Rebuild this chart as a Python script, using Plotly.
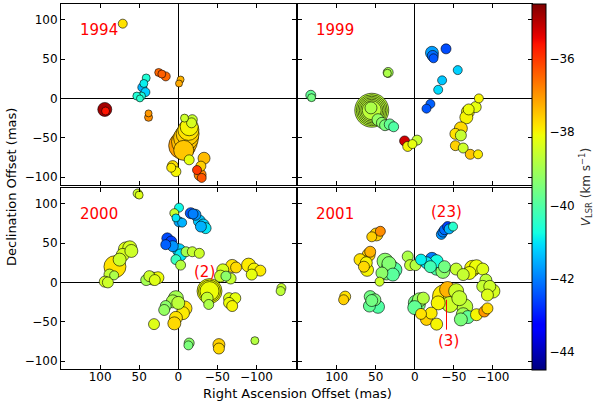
import numpy as np
import plotly.graph_objects as go

# ---- data: RA offset (mas), Dec offset (mas), V_LSR (km/s), spot size ----
years = ["1994", "1999", "2000", "2001"]

x_1994 = [71, 94, 93, 25, 21, 16, -3, -1, 41, 44, 46, 42, 47, 53, 49, 38, 38,
          -5, -8, -10, -12, -13, -14, -7, -8, -18, -17, -14, -33, -29, -24, -28, -30, 7, 3, 9]
y_1994 = [95, -14, -16, 33, 31, 28, 24, 19, 26, 19, 14, 8, 3, 3, 0, -19, -24,
          -60, -55, -50, -45, -40, -36, -66, -25, -27, -31, -78, -76, -86, -91, -97, -101, -86, -93, -88]
v_1994 = [-37.8, -34.8, -35.6, -36.5, -36.4, -36.5, -37.3, -37.2, -40.6, -40.9, -41.5, -41.2, -40.7, -40.6, -40.5, -37.0, -36.9,
          -37.1, -37.4, -37.5, -37.6, -37.8, -38.0, -37.5, -38.5, -38.6, -38.4, -38.2, -37.4, -37.6, -36.0, -36.8, -36.3, -37.8, -38.0, -37.9]
s_1994 = [9, 14, 8, 8, 8, 9, 7, 7, 8, 8, 9, 9, 8, 8, 7, 7, 8,
          27, 26, 25, 23, 21, 18, 20, 8, 10, 10, 10, 12, 10, 9, 12, 9, 11, 10, 9]

x_1999 = [133, 132, 34, 35, 55, 55, 55, 55, 55, 55, 56, 47, 42, 38, 32, 27, 13, 9, 3, -3,
          -22, -23, -24, -40, -55, -35, -30, -20, -15,
          -82, -78, -69, -68, -66, -59, -52, -59, -52, -62, -71, -81]
y_1999 = [4, 1, 33, 32, -15, -15, -15, -15, -15, -15, -12, -27, -31, -34, -33, -36, -54, -61, -58, -53,
          58, 54, 51, 63, 36, 23, 11, -7, -13,
          0, -11, -14, -17, -24, -38, -45, -47, -60, -63, -71, -71]
v_1999 = [-39.8, -39.6, -39.0, -38.9, -38.7, -38.7, -38.7, -38.7, -38.7, -38.7, -38.9, -39.2, -39.3, -39.5, -39.8, -40.0, -35.2, -38.0, -38.2, -38.6,
          -41.7, -42.2, -42.4, -42.5, -41.2, -41.3, -41.1, -42.3, -42.4,
          -38.0, -38.2, -38.1, -38.0, -38.0, -37.7, -37.8, -38.6, -37.6, -38.5, -37.5, -37.9]
s_1999 = [10, 8, 10, 8, 34, 31, 28, 25, 22, 19, 12, 12, 11, 11, 11, 10, 10, 10, 9, 10,
          13, 11, 9, 10, 9, 9, 9, 9, 9,
          9, 11, 11, 13, 13, 13, 11, 11, 10, 10, 10, 9]

x_2000 = [52, 50, 81, 67, 62, 71, 75, 60, 88, 94, 90, 82, 41, 33, 26, 37, 30, 31,
          -1, 5, -1, -5, 3, -16, -19, -22, -27, -32, -35, -29,
          14, 9, 16, 7, -1, -3, 3, -3, -10, -18, -27,
          -40, -40, -40, -37, -39, -57, -69, -74, -54, -61, -67,
          -90, -97, -105, -94, -132, -131, -65, -73, -65, -69,
          3, 7, 16, 18, -8, -6, 3, 5, 0, -14, -13, -52, -52, -98]
y_2000 = [113, 111, 20, 42, 44, 35, 29, 40, 10, 1, 0, 9, 3, 5, 6, 8, 3, -53,
          95, 88, 77, 76, 82, 88, 87, 86, 78, 73, 69, 71,
          56, 52, 48, 46, 41, 35, 29, 22, 39, 39, 37,
          -11, -11, -11, -20, -28, 16, 21, 19, 8, 8, 5,
          22, 17, 15, 10, -7, -11, -20, -20, -26, -30,
          -20, -24, -30, -35, -33, -39, -45, -52, -26, -77, -80, -79, -84, -74]
v_2000 = [-38.5, -38.3, -37.8, -38.3, -38.4, -38.4, -38.5, -38.5, -38.6, -38.4, -38.5, -38.9, -39.0, -38.4, -38.1, -38.5, -38.3, -38.3,
          -40.8, -38.6, -41.6, -41.5, -41.0, -42.4, -42.0, -41.8, -41.3, -41.2, -41.0, -41.5,
          -42.5, -42.6, -42.3, -41.8, -41.2, -41.0, -40.3, -38.8, -39.0, -38.6, -38.5,
          -38.1, -38.1, -38.1, -38.6, -38.9, -38.4, -37.8, -37.7, -38.5, -39.3, -38.6,
          -37.9, -38.0, -37.9, -38.2, -38.6, -38.7, -38.3, -38.2, -38.1, -38.0,
          -39.0, -38.9, -39.3, -39.2, -37.8, -37.9, -37.8, -37.7, -38.7, -39.3, -39.5, -37.6, -37.7, -38.8]
s_2000 = [9, 8, 22, 15, 14, 13, 13, 13, 11, 11, 11, 9, 11, 13, 12, 11, 11, 11,
          9, 9, 10, 9, 8, 11, 10, 11, 12, 12, 11, 11,
          11, 11, 10, 11, 13, 12, 10, 10, 10, 10, 10,
          25, 22, 19, 12, 10, 12, 13, 11, 12, 10, 11,
          14, 12, 11, 11, 9, 9, 11, 11, 11, 11,
          15, 13, 11, 11, 15, 13, 13, 13, 13, 10, 9, 12, 11, 8]

x_2001 = [44, 49, 55, 59, 66, 61, 70, 62, 57, 65,
          38, 32, 26, 28, 42, 36, 45, 33, 89, 91, 57, 51, 58, 47, 55,
          9, 6, -1, -8, -15, -22, -28, -28, -36, -38, -20,
          -34, -36, -38, -42, -49, -44,
          -2, -6, 0, -11, -4, -15, -28, -21, -8,
          -42, -38, -30, -53, -57, -64, -62, -68, -59, -79, -89, -93, -48, -45,
          -53, -62, -74, -79, -87, -70, -91, -87, -96, -100, -93]
y_2001 = [65, 61, 58, 35, 27, 16, 29, 25, 39, 20,
          27, 20, 16, 10, 12, 12, 1, 24, -18, -22, -18, -22, -30, -31, -23,
          33, 22, 22, 29, 25, 30, 27, 18, 14, 20, 20,
          61, 64, 67, 71, 71, 68,
          -26, -22, -32, -20, -28, -47, -53, -39, -40,
          -9, -18, -26, -11, -20, -31, -41, -44, -47, -41, -37, -33, -20, -28,
          17, 10, 18, 20, 17, 12, 3, -5, -5, -11, -16]
v_2001 = [-36.9, -37.6, -37.6, -37.6, -37.9, -38.0, -37.8, -38.0, -37.3, -37.7,
          -39.3, -39.6, -40.0, -39.9, -39.3, -39.5, -38.5, -39.4, -37.8, -37.6, -39.6, -39.5, -39.8, -40.0, -39.6,
          -38.9, -38.6, -38.8, -40.9, -41.0, -42.0, -40.7, -40.0, -39.3, -39.6, -40.2,
          -41.8, -42.0, -42.2, -42.6, -40.5, -41.5,
          -39.6, -39.2, -39.8, -38.8, -39.5, -37.6, -38.0, -37.9, -37.8,
          -37.3, -37.9, -38.0, -38.5, -38.6, -38.7, -39.0, -39.8, -39.5, -38.0, -37.0, -37.7, -38.3, -38.5,
          -38.6, -38.6, -38.0, -38.1, -38.3, -38.1, -38.7, -38.6, -38.5, -38.4, -38.3]
s_2001 = [10, 13, 10, 13, 12, 13, 12, 12, 11, 11,
          16, 16, 15, 13, 12, 14, 9, 14, 11, 10, 12, 12, 12, 13, 12,
          11, 11, 11, 11, 12, 13, 13, 14, 14, 12, 12,
          10, 10, 10, 10, 9, 10,
          16, 14, 14, 12, 15, 12, 12, 12, 11,
          16, 24, 14, 15, 15, 16, 14, 13, 13, 12, 11, 11, 18, 16,
          12, 12, 16, 14, 12, 13, 12, 12, 12, 14, 12]

panels = [(x_1994, y_1994, v_1994, s_1994),
          (x_1999, y_1999, v_1999, s_1999),
          (x_2000, y_2000, v_2000, s_2000),
          (x_2001, y_2001, v_2001, s_2001)]

# matplotlib "jet" colormap
def jet_scale(n=65):
    t = np.linspace(0, 1, n)
    r = np.interp(t, [0, 0.35, 0.66, 0.89, 1], [0, 0, 1, 1, 0.5])
    g = np.interp(t, [0, 0.125, 0.375, 0.64, 0.91, 1], [0, 0, 1, 1, 0, 0])
    b = np.interp(t, [0, 0.11, 0.34, 0.65, 1], [0.5, 1, 1, 0, 0])
    return [[float(ti), f"rgb({int(ri*255)},{int(gi*255)},{int(bi*255)})"]
            for ti, ri, gi, bi in zip(t, r, g, b)]

jet = jet_scale()
vmin, vmax = -44.5, -34.5

W, H = 600, 404

fig = go.Figure()
for i, (xs, ys, vs, ss) in enumerate(panels):
    xs, ys, vs, ss = map(np.array, (xs, ys, vs, ss))
    order = np.argsort(-ss, kind="stable")
    sfx = "" if i == 0 else str(i + 1)
    fig.add_trace(go.Scatter(
        x=xs[order], y=ys[order], mode="markers",
        xaxis="x" + sfx, yaxis="y" + sfx,
        marker=dict(size=ss[order], color=vs[order], colorscale=jet,
                    cmin=vmin, cmax=vmax, opacity=1,
                    line=dict(color="black", width=0.6),
                    showscale=(i == 0),
                    colorbar=dict(x=532/W, xanchor="left", thickness=14, xpad=0, ypad=0,
                                  y=(H-370)/H, yanchor="bottom", len=366/H,
                                  outlinecolor="black", outlinewidth=1,
                                  tickvals=[-44, -42, -40, -38, -36], ticks="",
                                  tickfont=dict(size=12, color="black"),
                                  title=dict(text="<i>V</i><sub>LSR</sub> (km s<sup>−1</sup>)",
                                             side="right", font=dict(size=12, color="#333")))),
        showlegend=False, hoverinfo="skip"))

# panel domains (pixels -> paper)
xdoms = [[61/W, 295.5/W], [297.5/W, 532/W]]
ydoms = [[(H-369)/H, (H-188)/H], [(H-185)/H, (H-4)/H]]

axis_common = dict(showline=True, mirror="ticks", linecolor="black", linewidth=1,
                   ticks="inside", ticklen=4, tickcolor="black", showgrid=False,
                   zeroline=True, zerolinecolor="black", zerolinewidth=1,
                   tickfont=dict(size=12, color="black"))
layout = {}
for i in range(4):
    sfx = "" if i == 0 else str(i + 1)
    col, row = i % 2, (0 if i < 2 else 1)
    layout["xaxis" + sfx] = dict(axis_common, domain=xdoms[col], range=[150, -150],
                                 tickvals=[100, 50, 0, -50, -100], ticklabelstandoff=-3,
                                 anchor="y" + sfx, showticklabels=(row == 1))
    layout["yaxis" + sfx] = dict(axis_common, domain=ydoms[1 - row], range=[-110, 120],
                                 tickvals=[-100, -50, 0, 50, 100],
                                 anchor="x" + sfx, showticklabels=(col == 0))

annotations = []
for i, yr in enumerate(years):
    sfx = "" if i == 0 else str(i + 1)
    annotations.append(dict(x=102, y=87, xref="x" + sfx, yref="y" + sfx, text=yr,
                            showarrow=False, font=dict(size=15, color="red")))
annotations += [
    dict(x=-33, y=13, xref="x3", yref="y3", text="(2)", showarrow=False,
         font=dict(size=15, color="red")),
    dict(x=-41, y=90, xref="x4", yref="y4", text="(23)", showarrow=False,
         font=dict(size=15, color="red")),
    dict(x=-43, y=-74, xref="x4", yref="y4", text="(3)", showarrow=False,
         font=dict(size=15, color="red")),
    dict(x=297/W, y=(H-393)/H, xref="paper", yref="paper", text="Right Ascension Offset (mas)",
         xanchor="center", yanchor="middle",
         showarrow=False, font=dict(size=13, color="black")),
    dict(x=11/W, y=(H-187)/H, xref="paper", yref="paper", text="Declination Offset (mas)",
         xanchor="center", yanchor="middle",
         textangle=-90, showarrow=False, font=dict(size=13, color="black")),
]

fig.update_layout(
    width=W, height=H, margin=dict(l=0, r=0, t=0, b=0),
    paper_bgcolor="white", plot_bgcolor="white",
    font=dict(family="DejaVu Sans", color="black"),
    annotations=annotations,
    shapes=[dict(type="line", xref="x4", yref="y4", x0=-40.6, x1=-40.6, y0=-22, y1=-60,
                 line=dict(color="red", width=1))],
    **layout)

fig.write_html("out.html", config={"displayModeBar": False},
               post_script="document.body.style.margin='0px';")
